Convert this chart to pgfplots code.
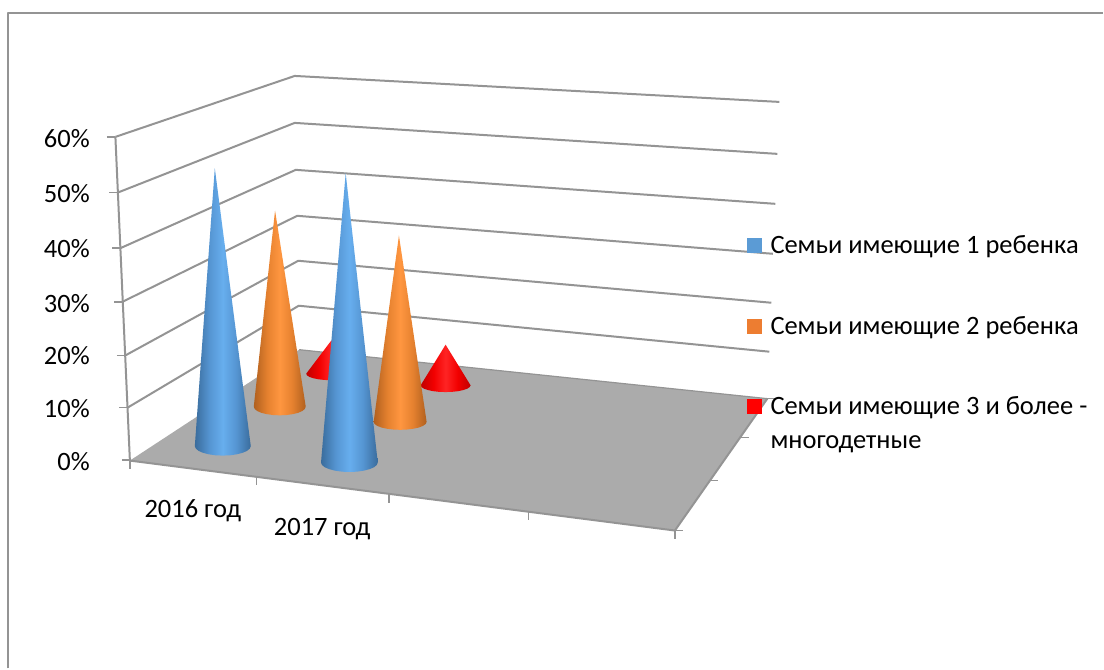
\documentclass[border=0pt]{standalone}
\usepackage{fontspec}
\setmainfont{Carlito}
\usepackage{pgfplots}
\pgfplotsset{compat=1.18}

\definecolor{linegray}{HTML}{949494}
\definecolor{floorgray}{HTML}{ABABAB}
\definecolor{legblue}{HTML}{5B9BD5}
\definecolor{legorange}{HTML}{ED7D31}
\definecolor{blued}{HTML}{3A6C9C}
\definecolor{bluem}{HTML}{5595D2}
\definecolor{bluel}{HTML}{67AEEE}
\definecolor{oranged}{HTML}{B0601F}
\definecolor{orangem}{HTML}{E5812F}
\definecolor{orangel}{HTML}{FF9640}
\definecolor{redd}{HTML}{C00000}
\definecolor{redm}{HTML}{F20000}
\definecolor{redl}{HTML}{FF2424}

\pgfdeclarehorizontalshading{bluecone}{100bp}{color(0bp)=(blued); color(25bp)=(blued); color(38bp)=(bluem); color(50bp)=(bluel); color(62bp)=(bluem); color(75bp)=(blued); color(100bp)=(blued)}
\pgfdeclarehorizontalshading{orangecone}{100bp}{color(0bp)=(oranged); color(25bp)=(oranged); color(38bp)=(orangem); color(50bp)=(orangel); color(62bp)=(orangem); color(75bp)=(oranged); color(100bp)=(oranged)}
\pgfdeclarehorizontalshading{redcone}{100bp}{color(0bp)=(redd); color(25bp)=(redd); color(38bp)=(redm); color(50bp)=(redl); color(62bp)=(redm); color(75bp)=(redd); color(100bp)=(redd)}

\tikzset{
	wall/.style={draw=linegray, line width=2pt, line join=round},
	tk/.style={draw=linegray, line width=1.6pt},
	lab/.style={font=\fontsize{26.5}{26.5}\selectfont, inner sep=0pt, text=black},
}

\begin{document}
\begin{tikzpicture}
\begin{axis}[
	scale only axis,
	width=1104pt, height=669pt,
	xmin=0, xmax=1104,
	ymin=0, ymax=669,
	y dir=reverse,
	hide axis,
	clip=false,
]
% page
\addplot[draw=none, fill=white] coordinates {(0,0) (1104,0) (1104,669) (0,669)} --cycle;
% frame
\addplot[wall] coordinates {(8,669) (8,13) (1104,13)};

% walls, 60% down to 10%
\addplot[wall] coordinates {(115.5,137) (295,76) (780,102)};
\addplot[wall] coordinates {(118,192.7) (295,123) (778,154)};
\addplot[wall] coordinates {(120.7,248.3) (296,170) (776,204)};
\addplot[wall] coordinates {(122.7,302) (297.5,216) (773.5,254)};
\addplot[wall] coordinates {(125,356) (298.5,261) (772,303)};
\addplot[wall] coordinates {(127.7,408) (299,306) (770,352)};
% value axis
\addplot[wall] coordinates {(115.5,137) (130,461)};
\addplot[tk] coordinates {(107,137) (115.5,137)};
\addplot[tk] coordinates {(109.5,192.7) (118,192.7)};
\addplot[tk] coordinates {(112.5,248.3) (120.7,248.3)};
\addplot[tk] coordinates {(114.5,302) (122.7,302)};
\addplot[tk] coordinates {(117,356) (125,356)};
\addplot[tk] coordinates {(119.5,408) (127.7,408)};
\addplot[tk] coordinates {(122,460.5) (130,460.5)};

% floor
\addplot[draw=none, fill=floorgray] coordinates {(130,461) (299.5,350) (768,399) (675.5,531)} --cycle;
\addplot[wall, line width=1.2pt] coordinates {(299.5,350) (768,399)};
\addplot[wall] coordinates {(130,461) (675.5,531) (768,399)};
% floor ticks
\addplot[tk] coordinates {(130,461) (130,469)};
\addplot[tk] coordinates {(256.7,477.5) (256.7,485)};
\addplot[tk] coordinates {(389.3,494.5) (389.3,503)};
\addplot[tk] coordinates {(529,512.5) (529,520)};
\addplot[tk] coordinates {(675.5,531) (675.5,539)};
\addplot[tk] coordinates {(675.5,531) (684,531)};
\addplot[tk] coordinates {(710,481) (719,481)};
\addplot[tk] coordinates {(741,438) (750,438)};
\addplot[tk] coordinates {(768,399) (776,399)};

% cones, back to front
\addplot[draw=none, shading=redcone] coordinates {(331.7,340.7) (355.5,374) (354.7,375.7) (352.2,377.3) (348.3,378.6) (343.3,379.6) (337.3,380.3) (331,380.5) (324.7,380.3) (318.8,379.6) (313.7,378.6) (309.8,377.3) (307.3,375.7) (306.5,374)} --cycle;
\addplot[draw=none, shading=redcone] coordinates {(446,345) (471,385.7) (470.1,387.4) (467.7,389) (463.7,390.4) (458.5,391.5) (452.5,392.2) (446,392.4) (439.5,392.2) (433.5,391.5) (428.3,390.4) (424.3,389) (421.9,387.4) (421,385.7)} --cycle;
\addplot[draw=none, shading=orangecone] coordinates {(275.3,210.7) (306,407) (305.1,409.3) (302.5,411.4) (298.4,413.2) (293,414.5) (286.7,415.4) (280,415.7) (273.3,415.4) (267,414.5) (261.6,413.2) (257.5,411.4) (254.9,409.3) (254,407)} --cycle;
\addplot[draw=none, shading=orangecone] coordinates {(399.3,235.7) (427,422.2) (426.1,424.3) (423.5,426.2) (419.2,427.9) (413.8,429.1) (407.4,429.9) (400.5,430.2) (393.6,429.9) (387.2,429.1) (381.8,427.9) (377.5,426.2) (374.9,424.3) (374,422.2)} --cycle;
\addplot[draw=none, shading=bluecone] coordinates {(215,168.3) (251,446.5) (250,449) (247.2,451.3) (242.8,453.2) (237,454.7) (230.3,455.7) (223,456) (215.7,455.7) (209,454.7) (203.2,453.2) (198.8,451.3) (196,449) (195,446.5)} --cycle;
\addplot[draw=none, shading=bluecone] coordinates {(346,173.3) (378.1,463) (377.1,465.4) (374.3,467.7) (369.8,469.6) (363.9,471.1) (357.1,472.1) (349.7,472.4) (342.3,472.1) (335.5,471.1) (329.6,469.6) (325.1,467.7) (322.3,465.4) (321.3,463)} --cycle;

% legend keys
\addplot[draw=none, fill=legblue] coordinates {(748,238) (763,238) (763,253) (748,253)} --cycle;
\addplot[draw=none, fill=legorange] coordinates {(748,319) (763,319) (763,334) (748,334)} --cycle;
\addplot[draw=none, fill=red] coordinates {(748,399) (763,399) (763,414) (748,414)} --cycle;

% tick labels
\node[lab, anchor=base east] at (axis cs:90,148) {60\%};
\node[lab, anchor=base east] at (axis cs:90,203) {50\%};
\node[lab, anchor=base east] at (axis cs:90,258) {40\%};
\node[lab, anchor=base east] at (axis cs:90,313) {30\%};
\node[lab, anchor=base east] at (axis cs:90,365) {20\%};
\node[lab, anchor=base east] at (axis cs:90,418) {10\%};
\node[lab, anchor=base east] at (axis cs:90,471) {0\%};
\node[lab, anchor=base] at (axis cs:193,518) {2016 год};
\node[lab, anchor=base] at (axis cs:322.5,536) {2017 год};

% legend text
\node[lab, anchor=base west] at (axis cs:771,254) {Семьи имеющие 1 ребенка};
\node[lab, anchor=base west] at (axis cs:771,335) {Семьи имеющие 2 ребенка};
\node[lab, anchor=base west] at (axis cs:771,415) {Семьи имеющие 3 и более -};
\node[lab, anchor=base west] at (axis cs:771,448.5) {многодетные};
\end{axis}
\end{tikzpicture}
\end{document}
